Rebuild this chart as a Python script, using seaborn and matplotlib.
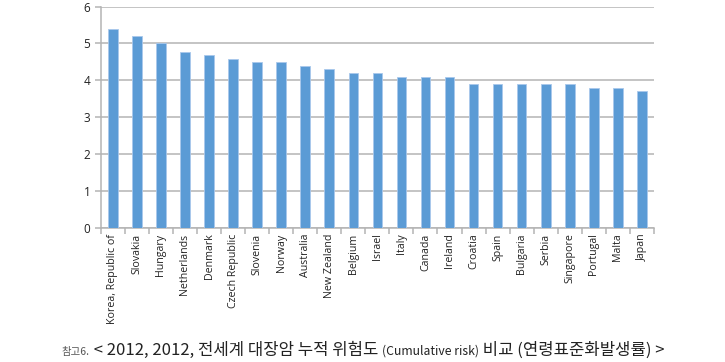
import matplotlib
matplotlib.use('Agg')
import matplotlib.pyplot as plt
import seaborn as sns
import pandas as pd

countries = ['Korea, Republic of', 'Slovakia', 'Hungary', 'Netherlands', 'Denmark',
             'Czech Republic', 'Slovenia', 'Norway', 'Australia', 'New Zealand',
             'Belgium', 'Israel', 'Italy', 'Canada', 'Ireland', 'Croatia', 'Spain',
             'Bulgaria', 'Serbia', 'Singapore', 'Portugal', 'Malta', 'Japan']
risk = [5.4, 5.2, 5.0, 4.78, 4.7, 4.58, 4.5, 4.5, 4.4, 4.3, 4.2, 4.2, 4.1, 4.1, 4.1,
        3.9, 3.9, 3.9, 3.9, 3.9, 3.8, 3.8, 3.7]
y_ticks = [0, 1, 2, 3, 4, 5, 6]

df = pd.DataFrame({'country': countries, 'risk': risk})

sns.set_style('white')
plt.rcParams['font.family'] = ['Open Sans', 'DejaVu Sans']

fig = plt.figure(figsize=(7.25, 3.62), dpi=100)
ax = fig.add_axes([0.139, 0.370, 0.763, 0.612])

sns.barplot(data=df, x='country', y='risk', color='#5b9bd5', saturation=1,
            width=0.4, edgecolor='#a9c8ec', linewidth=0.6, ax=ax, zorder=3)

ax.set_ylim(0, 6)
ax.set_yticks(y_ticks)
ax.set_xlim(-0.5, len(countries) - 0.5)
ax.yaxis.grid(True, color='#b4b4b4', linewidth=1.1, zorder=0)
ax.set_axisbelow(True)
ax.set_xlabel('')
ax.set_ylabel('')

for side in ['top', 'right']:
    ax.spines[side].set_visible(False)
for side in ['left', 'bottom']:
    ax.spines[side].set_color('#b4b4b4')
    ax.spines[side].set_linewidth(1.1)

ax.set_xticks([i - 0.5 for i in range(len(countries) + 1)], minor=True)
ax.set_xticks(range(len(countries)))
ax.set_xticklabels(countries, rotation=90, fontsize=7.7, color='#222222')
ax.tick_params(axis='x', which='major', length=0, pad=4)
ax.tick_params(axis='x', which='minor', length=4, color='#b4b4b4', width=1.1,
               direction='out', bottom=True)
ax.tick_params(axis='y', length=4, color='#b4b4b4', width=1.1, labelsize=8.5,
               labelcolor='#222222', left=True)

# caption pieces
kr = ['Noto Sans CJK KR', 'DejaVu Sans']
pieces = [('참고6.', 7.5, '#555555'),
          (' < 2012, 2012, 전세계 대장암 누적 위험도 ', 12, '#222222'),
          ('(Cumulative risk)', 8.8, '#222222'),
          (' 비교 (연령표준화발생률) >', 12, '#222222')]
fig.canvas.draw()
renderer = fig.canvas.get_renderer()
x = 62 / 725
for txt, size, col in pieces:
    t = fig.text(x, 1 - 355 / 362, txt, fontsize=size, color=col, family=kr,
                 ha='left', va='baseline')
    bb = t.get_window_extent(renderer=renderer)
    x = bb.x1 / fig.bbox.width

fig.savefig('out.png', dpi=100)
